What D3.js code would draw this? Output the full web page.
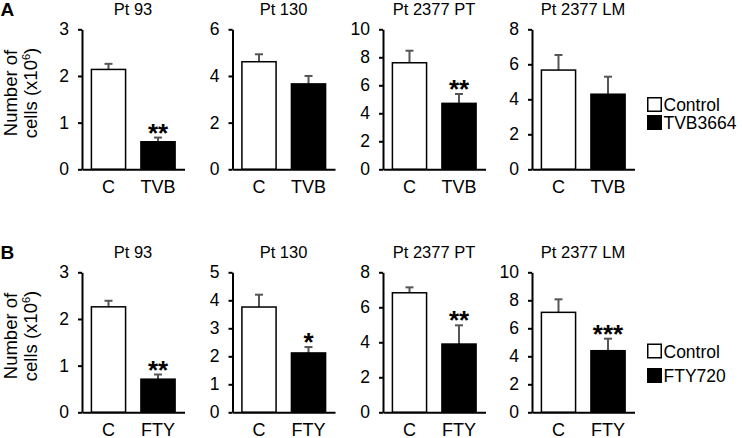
<!DOCTYPE html>
<html>
<head>
<meta charset="utf-8">
<script src="https://cdn.jsdelivr.net/npm/d3@7"></script>
<style>
  body { margin: 0; background: #fff; }
  svg { font-family: Arial, "Liberation Sans", sans-serif; }
</style>
</head>
<body>
<div id="chart"></div>
<script>
// data
const titles = ['Pt 93', 'Pt 130', 'Pt 2377 PT', 'Pt 2377 LM'];
const groupsA = ['C', 'TVB'];
const groupsB = ['C', 'FTY'];
const legendA = ['Control', 'TVB3664'];
const legendB = ['Control', 'FTY720'];

const yMaxA = [3, 6, 10, 8];
const yStepA = [1, 2, 2, 2];
const yMaxB = [3, 5, 8, 10];
const yStepB = [1, 1, 2, 2];

const ctrlA = [2.14, 4.61, 7.61, 5.67];
const ctrlErrA = [0.12, 0.32, 0.86, 0.86];
const tvbA = [0.59, 3.66, 4.71, 4.29];
const tvbErrA = [0.09, 0.34, 0.67, 1.0];
const starsA = ['**', '', '**', ''];

const ctrlB = [2.26, 3.76, 6.83, 7.14];
const ctrlErrB = [0.13, 0.44, 0.31, 0.93];
const ftyB = [0.71, 2.12, 3.90, 4.40];
const ftyErrB = [0.10, 0.21, 1.07, 0.86];
const starsB = ['**', '*', '**', '***'];

const W = 742, H = 438;
const axisX = [82, 232.5, 383, 532];

const svg = d3.select('#chart').append('svg')
  .attr('width', W).attr('height', H);

let drawRow = (cfg) => {
  axisX.forEach((ax, i) => {
    let y = d3.scaleLinear().domain([0, cfg.yMax[i]]).range([cfg.bottom, cfg.top]);
    let x = d3.scaleBand().domain(cfg.groups).range([ax, ax + 102.5])
      .paddingInner(0.31).paddingOuter(0.19);

    let g = svg.append('g');

    // title
    g.append('text')
      .attr('x', ax + 51).attr('y', cfg.top - 14.5)
      .attr('text-anchor', 'middle')
      .attr('font-size', 16.5)
      .text(titles[i]);

    let vals = [cfg.ctrl[i], cfg.trt[i]];
    let errs = [cfg.ctrlErr[i], cfg.trtErr[i]];
    let data = cfg.groups.map((k, j) => ({ k: k, v: vals[j], e: errs[j], j: j }));

    // error bars (drawn first, bar outline on top)
    let eb = g.selectAll('.eb').data(data).enter().append('g');
    eb.append('line')
      .attr('x1', d => x(d.k) + x.bandwidth() / 2)
      .attr('x2', d => x(d.k) + x.bandwidth() / 2)
      .attr('y1', d => y(d.v))
      .attr('y2', d => y(d.v + d.e))
      .attr('stroke', '#555').attr('stroke-width', 2);
    eb.append('line')
      .attr('x1', d => x(d.k) + x.bandwidth() / 2 - 4)
      .attr('x2', d => x(d.k) + x.bandwidth() / 2 + 4)
      .attr('y1', d => y(d.v + d.e))
      .attr('y2', d => y(d.v + d.e))
      .attr('stroke', '#555').attr('stroke-width', 2);

    // bars
    g.selectAll('.bar').data(data).enter().append('rect')
      .attr('x', d => x(d.k))
      .attr('width', x.bandwidth())
      .attr('y', d => y(d.v))
      .attr('height', d => cfg.bottom - y(d.v))
      .attr('fill', d => d.j === 0 ? '#fff' : '#000')
      .attr('stroke', '#000').attr('stroke-width', 1.5);

    // significance stars
    if (cfg.stars[i]) {
      let d = data[1];
      g.append('text')
        .attr('x', x(d.k) + x.bandwidth() / 2)
        .attr('y', y(d.v + d.e) + 4)
        .attr('text-anchor', 'middle')
        .attr('font-size', 26).attr('font-weight', 'bold')
        .text(cfg.stars[i]);
    }

    // y axis
    let yAxis = d3.axisLeft(y)
      .tickValues(d3.range(0, cfg.yMax[i] + 0.001, cfg.yStep[i]))
      .tickFormat(d3.format('d'))
      .tickSize(4).tickPadding(9).tickSizeOuter(0);
    let ya = g.append('g').attr('transform', `translate(${ax},0)`).call(yAxis);
    ya.attr('font-family', null).attr('font-size', 17.5);
    ya.selectAll('path, line').attr('stroke', '#000').attr('stroke-width', 2);
    ya.selectAll('text').attr('fill', '#000');

    // x axis baseline and labels
    let xAxis = d3.axisBottom(x).tickSize(0).tickSizeOuter(0);
    let xa = g.append('g').attr('transform', `translate(0,${cfg.bottom})`).call(xAxis);
    xa.attr('font-family', null).attr('font-size', 18);
    xa.select('path').attr('stroke', '#000').attr('stroke-width', 2);
    xa.selectAll('text').attr('fill', '#000').attr('y', 23.5).attr('dy', null);
  });

  // y label
  let yl = svg.append('text')
    .attr('transform', `translate(17,${cfg.labelY}) rotate(-90)`)
    .attr('text-anchor', 'middle')
    .attr('font-size', 18.5);
  yl.append('tspan').attr('x', 0).attr('y', 0).text('Number of');
  let t2 = yl.append('tspan').attr('x', 0).attr('y', 20);
  t2.append('tspan').text('cells (x10');
  t2.append('tspan').attr('font-size', 11).attr('dy', -7).text('6');
  t2.append('tspan').attr('dy', 7).text(')');

  // panel letter
  svg.append('text')
    .attr('x', 0.5).attr('y', cfg.top - 13.5)
    .attr('font-size', 19).attr('font-weight', 'bold')
    .text(cfg.letter);

  // legend
  let lg = svg.append('g').attr('transform', `translate(647,${cfg.legendY})`);
  cfg.legend.forEach((name, j) => {
    lg.append('rect')
      .attr('x', 0.75).attr('y', j * cfg.legendGap + 0.75)
      .attr('width', 13.5).attr('height', 13.5)
      .attr('fill', j === 0 ? '#fff' : '#000')
      .attr('stroke', '#000').attr('stroke-width', 1.5);
    lg.append('text')
      .attr('x', 16.5).attr('y', j * cfg.legendGap + 14)
      .attr('font-size', 17.5)
      .text(name);
  });
};

drawRow({
  letter: 'A', top: 29.3, bottom: 169.3, labelY: 93,
  groups: groupsA, yMax: yMaxA, yStep: yStepA,
  ctrl: ctrlA, ctrlErr: ctrlErrA, trt: tvbA, trtErr: tvbErrA, stars: starsA,
  legend: legendA, legendY: 97, legendGap: 18
});
drawRow({
  letter: 'B', top: 272.3, bottom: 412.3, labelY: 336,
  groups: groupsB, yMax: yMaxB, yStep: yStepB,
  ctrl: ctrlB, ctrlErr: ctrlErrB, trt: ftyB, trtErr: ftyErrB, stars: starsB,
  legend: legendB, legendY: 343.5, legendGap: 24.5
});
</script>
</body>
</html>
